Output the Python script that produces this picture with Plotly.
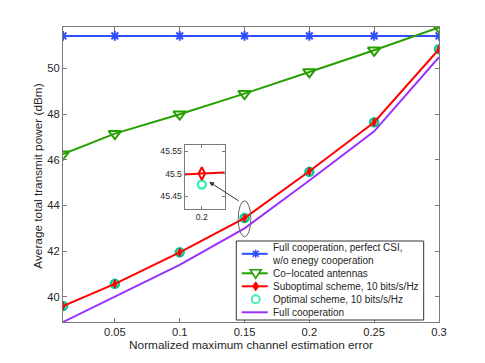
import plotly.graph_objects as go

# normalized maximum channel estimation error
err = [0.01, 0.05, 0.1, 0.15, 0.2, 0.25, 0.3]

full_coop_perfect = [51.43, 51.43, 51.43, 51.43, 51.43, 51.43, 51.43]
co_located = [46.25, 47.15, 48.0, 48.9, 49.85, 50.8, 51.8]
suboptimal = [39.6, 40.57, 41.95, 43.45, 45.5, 47.65, 50.85]
optimal = [39.6, 40.57, 41.95, 43.45, 45.476, 47.65, 50.85]
full_coop = [38.9, 40.0, 41.4, 43.0, 45.1, 47.25, 50.5]

names = ["Full cooperation, perfect CSI,", "w/o enegy cooperation",
         "Co\u2212located antennas",
         "Suboptimal scheme, 10 bits/s/Hz",
         "Optimal scheme, 10 bits/s/Hz",
         "Full cooperation"]

BLUE = "#3050ff"
GREEN = "#26a000"
RED = "#ff0000"
CYAN = "#40f0b0"
PURPLE = "#9a30ff"
AX = "#7a7a7a"
FONT = "Arial"

fig = go.Figure()
fig.add_trace(go.Scatter(x=err, y=full_coop_perfect, mode="lines+markers",
                         line=dict(color=BLUE, width=2),
                         marker=dict(symbol="asterisk-open", size=8, line=dict(color=BLUE, width=2))))
fig.add_trace(go.Scatter(x=err, y=co_located, mode="lines+markers",
                         line=dict(color=GREEN, width=2),
                         marker=dict(symbol="triangle-down-open", size=11, line=dict(color=GREEN, width=2))))
fig.add_trace(go.Scatter(x=err, y=optimal, mode="markers",
                         marker=dict(symbol="circle-open", size=8, line=dict(color=CYAN, width=2.5))))
fig.add_trace(go.Scatter(x=err, y=suboptimal, mode="lines+markers",
                         line=dict(color=RED, width=2),
                         marker=dict(symbol="diamond-tall", size=6, color=RED, line=dict(color=RED, width=1))))
fig.add_trace(go.Scatter(x=err, y=full_coop, mode="lines",
                         line=dict(color=PURPLE, width=2)))

# zoomed inset around err = 0.2
fig.add_trace(go.Scatter(x=err, y=optimal, mode="markers",
                         xaxis="x2", yaxis="y2",
                         marker=dict(symbol="circle", size=8, color="rgba(0,0,0,0)",
                                     line=dict(color=CYAN, width=2.5))))
fig.add_trace(go.Scatter(x=err, y=suboptimal, mode="lines+markers",
                         xaxis="x2", yaxis="y2", line=dict(color=RED, width=2),
                         marker=dict(symbol="diamond-tall-open", size=9, line=dict(color=RED, width=2))))

axis_style = dict(ticks="inside", tickcolor=AX, showline=True, linecolor=AX,
                  mirror="ticks", showgrid=False, zeroline=False)

# the page puts the plot 8px from the window's top-left corner
fig.update_layout(
    width=477, height=355,
    margin=dict(l=55, r=46, t=19, b=41),
    paper_bgcolor="white", plot_bgcolor="white",
    font=dict(family=FONT, size=11.2, color="#262626"),
    showlegend=False,
    xaxis=dict(range=[0.01, 0.3], tickvals=[0.05, 0.1, 0.15, 0.2, 0.25, 0.3],
               ticktext=["0.05", "0.1", "0.15", "0.2", "0.25", "0.3"],
               ticklen=4, linewidth=1, automargin=True,
               title=dict(text="Normalized maximum channel estimation error",
                          font=dict(size=11.8), standoff=0), **axis_style),
    yaxis=dict(range=[38.9, 51.82], tickvals=[40, 42, 44, 46, 48, 50],
               ticklen=4, linewidth=1, automargin=False, **axis_style),
    xaxis2=dict(domain=[0.3234, 0.4298], anchor="y2", range=[0.199957, 0.200057],
                tickvals=[0.2], ticktext=["0.2"], ticklen=3, linewidth=1, automargin=False,
                tickfont=dict(size=8.6), **axis_style),
    yaxis2=dict(domain=[0.3837, 0.5994], anchor="x2", range=[45.422, 45.563],
                tickvals=[45.45, 45.5, 45.55], ticktext=["45.45", "45.5", "45.55"],
                ticklen=3, linewidth=1, automargin=False, tickfont=dict(size=8.6), **axis_style),
)


# positions in window pixels -> paper coordinates
def px(x):
    return (x - 63) / 376.0


def py(y):
    return (322 - y) / 295.0


# y axis title
fig.add_annotation(xref="paper", yref="paper", x=px(37.7), y=py(176),
                   xanchor="center", yanchor="middle", textangle=-90, showarrow=False,
                   text="Average total transmit power (dBm)",
                   font=dict(size=11.8, color="#262626"))

# ellipse around the point at 0.15 and arrow to the inset
fig.add_shape(type="circle", xref="x", yref="y", xsizemode="pixel", ysizemode="pixel",
              xanchor=err[3], yanchor=43.42, x0=-6.3, x1=6.3, y0=-18, y1=18,
              line=dict(color="#666", width=1))
fig.add_annotation(x=0.1227, y=45.04, xref="x", yref="y", ax=31, ay=20,
                   showarrow=True, arrowhead=2, arrowsize=1, arrowwidth=1,
                   arrowcolor="#333", text="")

# legend box (MATLAB-style compact legend)
fig.add_shape(type="rect", xref="paper", yref="paper",
              x0=px(236.3), x1=px(423.7), y0=py(320), y1=py(241),
              fillcolor="white", line=dict(color="#333", width=1), layer="above")
fig.add_annotation(xref="paper", yref="paper", x=px(270), y=py(279.8),
                   xanchor="left", yanchor="middle", align="left", showarrow=False,
                   text="<br>".join(names), font=dict(size=10, color="#262626"))

sample_y = [253.8, 273.3, 286.3, 299.3, 312.3]
sample_col = [BLUE, GREEN, RED, None, PURPLE]
for yy, col in zip(sample_y, sample_col):
    if col:
        fig.add_shape(type="line", xref="paper", yref="paper",
                      x0=px(241.7), x1=px(267.7), y0=py(yy), y1=py(yy),
                      line=dict(color=col, width=2), layer="above")

mx = px(255.7)
# asterisk
fig.add_shape(type="path", xref="paper", yref="paper", xsizemode="pixel", ysizemode="pixel",
              xanchor=mx, yanchor=py(sample_y[0]),
              path="M -4 0 L 4 0 M 0 -4 L 0 4 M -3 -3 L 3 3 M -3 3 L 3 -3",
              line=dict(color=BLUE, width=1.6), layer="above")
# triangle down
fig.add_shape(type="path", xref="paper", yref="paper", xsizemode="pixel", ysizemode="pixel",
              xanchor=mx, yanchor=py(sample_y[1]),
              path="M -5.5 3.5 L 5.5 3.5 L 0 -5 Z",
              fillcolor="white", line=dict(color=GREEN, width=1.6), layer="above")
# diamond
fig.add_shape(type="path", xref="paper", yref="paper", xsizemode="pixel", ysizemode="pixel",
              xanchor=mx, yanchor=py(sample_y[2]),
              path="M 0 -4.5 L 3 0 L 0 4.5 L -3 0 Z",
              fillcolor=RED, line=dict(color=RED, width=1), layer="above")
# circle
fig.add_shape(type="circle", xref="paper", yref="paper", xsizemode="pixel", ysizemode="pixel",
              xanchor=mx, yanchor=py(sample_y[3]), x0=-4, x1=4, y0=-4, y1=4,
              line=dict(color=CYAN, width=2), layer="above")

fig.write_html("out.html")
